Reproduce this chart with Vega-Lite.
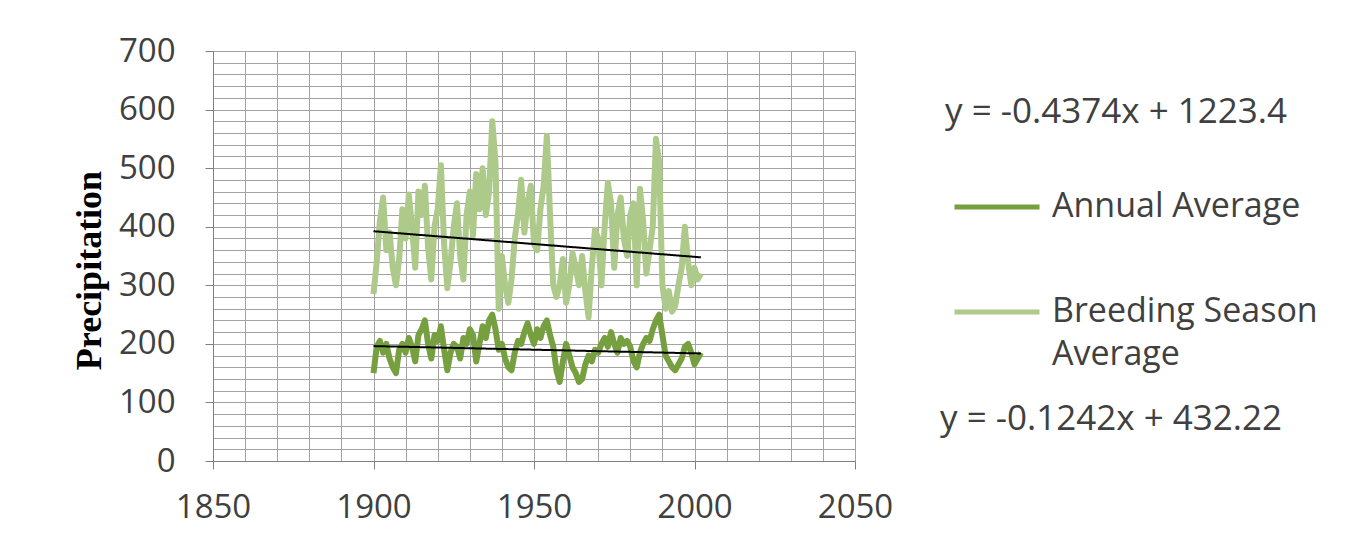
{
  "$schema": "https://vega.github.io/schema/vega-lite/v6.json",
  "width": 642,
  "height": 410,
  "autosize": {"type": "none"},
  "padding": {"left": 213, "top": 51, "right": 490, "bottom": 84},
  "background": "white",
  "config": {
    "font": "Open Sans",
    "view": {"stroke": null},
    "style": {"guide-label": {"lineHeight": 43}}
  },
  "datasets": {
    "series": [
      {"year":1900,"series":"Breeding Season Average","value":285},{"year":1901,"series":"Breeding Season Average","value":340},{"year":1902,"series":"Breeding Season Average","value":410},{"year":1903,"series":"Breeding Season Average","value":450},{"year":1904,"series":"Breeding Season Average","value":360},{"year":1905,"series":"Breeding Season Average","value":390},{"year":1906,"series":"Breeding Season Average","value":330},{"year":1907,"series":"Breeding Season Average","value":300},{"year":1908,"series":"Breeding Season Average","value":345},{"year":1909,"series":"Breeding Season Average","value":430},
      {"year":1910,"series":"Breeding Season Average","value":380},{"year":1911,"series":"Breeding Season Average","value":455},{"year":1912,"series":"Breeding Season Average","value":400},{"year":1913,"series":"Breeding Season Average","value":330},{"year":1914,"series":"Breeding Season Average","value":460},{"year":1915,"series":"Breeding Season Average","value":420},{"year":1916,"series":"Breeding Season Average","value":470},{"year":1917,"series":"Breeding Season Average","value":365},{"year":1918,"series":"Breeding Season Average","value":310},{"year":1919,"series":"Breeding Season Average","value":400},
      {"year":1920,"series":"Breeding Season Average","value":430},{"year":1921,"series":"Breeding Season Average","value":505},{"year":1922,"series":"Breeding Season Average","value":370},{"year":1923,"series":"Breeding Season Average","value":295},{"year":1924,"series":"Breeding Season Average","value":340},{"year":1925,"series":"Breeding Season Average","value":400},{"year":1926,"series":"Breeding Season Average","value":440},{"year":1927,"series":"Breeding Season Average","value":350},{"year":1928,"series":"Breeding Season Average","value":310},{"year":1929,"series":"Breeding Season Average","value":420},
      {"year":1930,"series":"Breeding Season Average","value":460},{"year":1931,"series":"Breeding Season Average","value":385},{"year":1932,"series":"Breeding Season Average","value":490},{"year":1933,"series":"Breeding Season Average","value":430},{"year":1934,"series":"Breeding Season Average","value":500},{"year":1935,"series":"Breeding Season Average","value":420},{"year":1936,"series":"Breeding Season Average","value":460},{"year":1937,"series":"Breeding Season Average","value":580},{"year":1938,"series":"Breeding Season Average","value":510},{"year":1939,"series":"Breeding Season Average","value":260},
      {"year":1940,"series":"Breeding Season Average","value":350},{"year":1941,"series":"Breeding Season Average","value":300},{"year":1942,"series":"Breeding Season Average","value":270},{"year":1943,"series":"Breeding Season Average","value":310},{"year":1944,"series":"Breeding Season Average","value":380},{"year":1945,"series":"Breeding Season Average","value":420},{"year":1946,"series":"Breeding Season Average","value":480},{"year":1947,"series":"Breeding Season Average","value":390},{"year":1948,"series":"Breeding Season Average","value":440},{"year":1949,"series":"Breeding Season Average","value":470},
      {"year":1950,"series":"Breeding Season Average","value":370},{"year":1951,"series":"Breeding Season Average","value":360},{"year":1952,"series":"Breeding Season Average","value":430},{"year":1953,"series":"Breeding Season Average","value":470},{"year":1954,"series":"Breeding Season Average","value":555},{"year":1955,"series":"Breeding Season Average","value":420},{"year":1956,"series":"Breeding Season Average","value":300},{"year":1957,"series":"Breeding Season Average","value":280},{"year":1958,"series":"Breeding Season Average","value":300},{"year":1959,"series":"Breeding Season Average","value":345},
      {"year":1960,"series":"Breeding Season Average","value":270},{"year":1961,"series":"Breeding Season Average","value":300},{"year":1962,"series":"Breeding Season Average","value":355},{"year":1963,"series":"Breeding Season Average","value":330},{"year":1964,"series":"Breeding Season Average","value":300},{"year":1965,"series":"Breeding Season Average","value":350},{"year":1966,"series":"Breeding Season Average","value":290},{"year":1967,"series":"Breeding Season Average","value":245},{"year":1968,"series":"Breeding Season Average","value":330},{"year":1969,"series":"Breeding Season Average","value":395},
      {"year":1970,"series":"Breeding Season Average","value":380},{"year":1971,"series":"Breeding Season Average","value":300},{"year":1972,"series":"Breeding Season Average","value":400},{"year":1973,"series":"Breeding Season Average","value":475},{"year":1974,"series":"Breeding Season Average","value":440},{"year":1975,"series":"Breeding Season Average","value":330},{"year":1976,"series":"Breeding Season Average","value":420},{"year":1977,"series":"Breeding Season Average","value":450},{"year":1978,"series":"Breeding Season Average","value":380},{"year":1979,"series":"Breeding Season Average","value":350},
      {"year":1980,"series":"Breeding Season Average","value":420},{"year":1981,"series":"Breeding Season Average","value":440},{"year":1982,"series":"Breeding Season Average","value":300},{"year":1983,"series":"Breeding Season Average","value":465},{"year":1984,"series":"Breeding Season Average","value":410},{"year":1985,"series":"Breeding Season Average","value":320},{"year":1986,"series":"Breeding Season Average","value":360},{"year":1987,"series":"Breeding Season Average","value":400},{"year":1988,"series":"Breeding Season Average","value":550},{"year":1989,"series":"Breeding Season Average","value":510},
      {"year":1990,"series":"Breeding Season Average","value":300},{"year":1991,"series":"Breeding Season Average","value":260},{"year":1992,"series":"Breeding Season Average","value":290},{"year":1993,"series":"Breeding Season Average","value":255},{"year":1994,"series":"Breeding Season Average","value":265},{"year":1995,"series":"Breeding Season Average","value":300},{"year":1996,"series":"Breeding Season Average","value":330},{"year":1997,"series":"Breeding Season Average","value":400},{"year":1998,"series":"Breeding Season Average","value":340},{"year":1999,"series":"Breeding Season Average","value":300},
      {"year":2000,"series":"Breeding Season Average","value":330},{"year":2001,"series":"Breeding Season Average","value":310},{"year":2002,"series":"Breeding Season Average","value":320},
      {"year":1900,"series":"Annual Average","value":150},{"year":1901,"series":"Annual Average","value":195},{"year":1902,"series":"Annual Average","value":205},{"year":1903,"series":"Annual Average","value":185},{"year":1904,"series":"Annual Average","value":200},{"year":1905,"series":"Annual Average","value":175},{"year":1906,"series":"Annual Average","value":160},{"year":1907,"series":"Annual Average","value":150},{"year":1908,"series":"Annual Average","value":190},{"year":1909,"series":"Annual Average","value":200},
      {"year":1910,"series":"Annual Average","value":185},{"year":1911,"series":"Annual Average","value":210},{"year":1912,"series":"Annual Average","value":195},{"year":1913,"series":"Annual Average","value":170},{"year":1914,"series":"Annual Average","value":215},{"year":1915,"series":"Annual Average","value":225},{"year":1916,"series":"Annual Average","value":240},{"year":1917,"series":"Annual Average","value":200},{"year":1918,"series":"Annual Average","value":175},{"year":1919,"series":"Annual Average","value":215},
      {"year":1920,"series":"Annual Average","value":205},{"year":1921,"series":"Annual Average","value":230},{"year":1922,"series":"Annual Average","value":190},{"year":1923,"series":"Annual Average","value":155},{"year":1924,"series":"Annual Average","value":185},{"year":1925,"series":"Annual Average","value":200},{"year":1926,"series":"Annual Average","value":195},{"year":1927,"series":"Annual Average","value":175},{"year":1928,"series":"Annual Average","value":210},{"year":1929,"series":"Annual Average","value":200},
      {"year":1930,"series":"Annual Average","value":225},{"year":1931,"series":"Annual Average","value":215},{"year":1932,"series":"Annual Average","value":170},{"year":1933,"series":"Annual Average","value":200},{"year":1934,"series":"Annual Average","value":230},{"year":1935,"series":"Annual Average","value":210},{"year":1936,"series":"Annual Average","value":240},{"year":1937,"series":"Annual Average","value":250},{"year":1938,"series":"Annual Average","value":225},{"year":1939,"series":"Annual Average","value":190},
      {"year":1940,"series":"Annual Average","value":200},{"year":1941,"series":"Annual Average","value":175},{"year":1942,"series":"Annual Average","value":160},{"year":1943,"series":"Annual Average","value":155},{"year":1944,"series":"Annual Average","value":185},{"year":1945,"series":"Annual Average","value":205},{"year":1946,"series":"Annual Average","value":200},{"year":1947,"series":"Annual Average","value":220},{"year":1948,"series":"Annual Average","value":235},{"year":1949,"series":"Annual Average","value":215},
      {"year":1950,"series":"Annual Average","value":200},{"year":1951,"series":"Annual Average","value":225},{"year":1952,"series":"Annual Average","value":210},{"year":1953,"series":"Annual Average","value":230},{"year":1954,"series":"Annual Average","value":240},{"year":1955,"series":"Annual Average","value":215},{"year":1956,"series":"Annual Average","value":195},{"year":1957,"series":"Annual Average","value":155},{"year":1958,"series":"Annual Average","value":135},{"year":1959,"series":"Annual Average","value":170},
      {"year":1960,"series":"Annual Average","value":200},{"year":1961,"series":"Annual Average","value":180},{"year":1962,"series":"Annual Average","value":160},{"year":1963,"series":"Annual Average","value":150},{"year":1964,"series":"Annual Average","value":135},{"year":1965,"series":"Annual Average","value":140},{"year":1966,"series":"Annual Average","value":165},{"year":1967,"series":"Annual Average","value":180},{"year":1968,"series":"Annual Average","value":170},{"year":1969,"series":"Annual Average","value":190},
      {"year":1970,"series":"Annual Average","value":185},{"year":1971,"series":"Annual Average","value":200},{"year":1972,"series":"Annual Average","value":210},{"year":1973,"series":"Annual Average","value":195},{"year":1974,"series":"Annual Average","value":220},{"year":1975,"series":"Annual Average","value":200},{"year":1976,"series":"Annual Average","value":185},{"year":1977,"series":"Annual Average","value":210},{"year":1978,"series":"Annual Average","value":200},{"year":1979,"series":"Annual Average","value":205},
      {"year":1980,"series":"Annual Average","value":195},{"year":1981,"series":"Annual Average","value":170},{"year":1982,"series":"Annual Average","value":160},{"year":1983,"series":"Annual Average","value":185},{"year":1984,"series":"Annual Average","value":200},{"year":1985,"series":"Annual Average","value":210},{"year":1986,"series":"Annual Average","value":205},{"year":1987,"series":"Annual Average","value":225},{"year":1988,"series":"Annual Average","value":240},{"year":1989,"series":"Annual Average","value":250},
      {"year":1990,"series":"Annual Average","value":215},{"year":1991,"series":"Annual Average","value":180},{"year":1992,"series":"Annual Average","value":170},{"year":1993,"series":"Annual Average","value":160},{"year":1994,"series":"Annual Average","value":155},{"year":1995,"series":"Annual Average","value":165},{"year":1996,"series":"Annual Average","value":175},{"year":1997,"series":"Annual Average","value":195},{"year":1998,"series":"Annual Average","value":200},{"year":1999,"series":"Annual Average","value":185},
      {"year":2000,"series":"Annual Average","value":165},{"year":2001,"series":"Annual Average","value":175},{"year":2002,"series":"Annual Average","value":185}
    ],
    "trend": [
      {"year":1900,"line":"breeding","eq":"y = -0.1242x + 432.22","value":392.3},
      {"year":2002,"line":"breeding","eq":"y = -0.1242x + 432.22","value":347.7},
      {"year":1900,"line":"annual","eq":"y = -0.1242x + 432.22","value":196.2},
      {"year":2002,"line":"annual","eq":"y = -0.1242x + 432.22","value":183.6}
    ]
  },
  "encoding": {
    "x": {
      "field": "year", "type": "quantitative",
      "scale": {"domain": [1850, 2050], "nice": false, "zero": false},
      "axis": {
        "values": [1850,1860,1870,1880,1890,1900,1910,1920,1930,1940,1950,1960,1970,1980,1990,2000,2010,2020,2030,2040,2050],
        "format": "d",
        "labelExpr": "datum.value % 50 === 0 ? datum.label : ''",
        "grid": true, "gridColor": "#a3a3a3", "gridWidth": 1,
        "tickSize": 8, "tickColor": "#7f7f7f",
        "tickOpacity": {"expr": "datum.value % 50 === 0 ? 1 : 0"},
        "domainColor": "#7f7f7f",
        "labelFont": "Open Sans", "labelFontSize": 33, "labelColor": "#404040",
        "labelPadding": 22, "labelFlush": false, "labelOverlap": false,
        "title": null
      }
    },
    "y": {
      "field": "value", "type": "quantitative",
      "scale": {"domain": [0, 700], "nice": false},
      "axis": {
        "values": [0,20,40,60,80,100,120,140,160,180,200,220,240,260,280,300,320,340,360,380,400,420,440,460,480,500,520,540,560,580,600,620,640,660,680,700],
        "labelExpr": "datum.value % 100 === 0 ? datum.label : ''",
        "grid": true, "gridColor": "#a3a3a3", "gridWidth": 1,
        "tickSize": 8, "tickColor": "#7f7f7f",
        "tickOpacity": {"expr": "datum.value % 100 === 0 ? 1 : 0"},
        "domainColor": "#7f7f7f",
        "labelFont": "Open Sans", "labelFontSize": 33, "labelColor": "#404040",
        "labelPadding": 30, "labelFlush": false, "labelOverlap": false,
        "title": "Precipitation",
        "titleFont": "Liberation Serif", "titleFontSize": 36, "titleFontWeight": "bold", "titleColor": "#000000",
        "titleX": -105, "titleY": 219, "titleBaseline": "bottom"
      }
    }
  },
  "layer": [
    {
      "data": {"name": "series"},
      "mark": {"type": "line", "strokeWidth": 6, "strokeJoin": "round"},
      "encoding": {
        "color": {
          "field": "series", "type": "nominal",
          "scale": {"domain": ["Annual Average", "Breeding Season Average"], "range": ["#76a03f", "#adca8a"]},
          "legend": {
            "orient": "none", "legendX": 732, "legendY": 44, "padding": 0,
            "title": "y = -0.4374x + 1223.4",
            "titleFont": "Open Sans", "titleFontSize": 35, "titleFontWeight": "normal", "titleColor": "#404040",
            "titlePadding": 32, "titleLimit": 600,
            "symbolType": "M-1,0L1,0", "symbolSize": 7225, "symbolStrokeWidth": 5, "symbolOffset": 7,
            "labelExpr": "datum.label == 'Breeding Season Average' ? ['Breeding Season', 'Average'] : [datum.label, '']",
            "labelFont": "Open Sans", "labelFontSize": 34, "labelColor": "#404040", "labelLimit": 500, "labelOffset": 10,
            "rowPadding": 0
          }
        }
      }
    },
    {
      "data": {"name": "trend"},
      "mark": {"type": "line", "color": "#000000", "strokeWidth": 2},
      "encoding": {
        "detail": {"field": "line"},
        "strokeDash": {
          "field": "eq", "type": "nominal",
          "scale": {"range": [[1, 0]]},
          "legend": {
            "orient": "none", "legendX": 727, "legendY": 351, "padding": 0,
            "title": "y = -0.1242x + 432.22",
            "titleFont": "Open Sans", "titleFontSize": 35, "titleFontWeight": "normal", "titleColor": "#404040", "titleLimit": 600,
            "labelOpacity": 0, "symbolOpacity": 0, "symbolStrokeWidth": 0
          }
        }
      }
    }
  ]
}
